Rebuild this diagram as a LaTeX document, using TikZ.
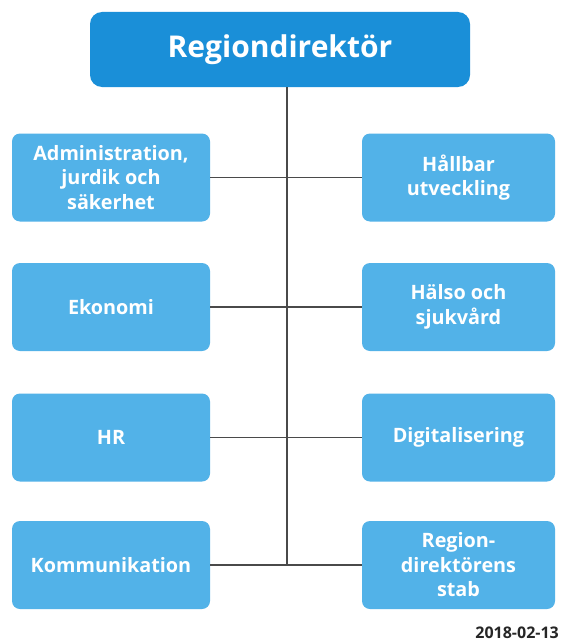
\documentclass[tikz,border=0pt]{standalone}
\usepackage{fontspec}
\setmainfont{Open Sans}
\definecolor{topblue}{HTML}{1A8FD8}
\definecolor{boxblue}{HTML}{52B2E8}
\definecolor{linegray}{HTML}{4A4A4A}
\begin{document}
\begin{tikzpicture}[x=1pt,y=-1pt,
  topbox/.style={fill=topblue, draw=none, rounded corners=12pt, minimum width=380pt, minimum height=75pt,
    text=white, font=\bfseries\fontsize{30}{35}\selectfont},
  unitbox/.style={fill=boxblue, draw=none, rounded corners=8pt, minimum height=88pt,
    text=white, align=center, inner sep=2pt, font=\bfseries\fontsize{19.8}{24.5}\selectfont},
  leftbox/.style={unitbox, minimum width=198pt},
  rightbox/.style={unitbox, minimum width=193pt},
  conn/.style={draw=linegray, line width=1.4pt}]
\useasboundingbox[fill=white] (0,0) rectangle (561,642);

\node[topbox] (top) at (280,49.5) {Regiondirektör};

\node[leftbox] (l1) at (111,177.5) {Administration,\\jurdik och\\säkerhet};
\node[leftbox] (l2) at (111,307) {Ekonomi};
\node[leftbox] (l3) at (111,437.5) {HR};
\node[leftbox] (l4) at (111,565) {Kommunikation};

\node[rightbox] (r1) at (458.5,177.5) {Hållbar\\utveckling};
\node[rightbox] (r2) at (458.5,307) {Hälso och\\sjukvård};
\node[rightbox] (r3) at (458.5,437.5) {Digitalisering};
\node[rightbox] (r4) at (458.5,565) {Region-\\direktörens\\stab};

\coordinate (spinetop) at ([xshift=7pt]top.south);
\coordinate (spinebot) at (spinetop |- l4.east);

\draw[conn] (spinetop) -- (spinebot);
\draw[conn] (l1.east) -- (r1.west);
\draw[conn] (l2.east) -- (r2.west);
\draw[conn] (l3.east) -- (r3.west);
\draw[conn] (l4.east) -- (r4.west);

\node[anchor=east, inner sep=0pt, text=black!85, font=\bfseries\fontsize{16}{18}\selectfont] (date) at (559,633) {2018-02-13};
\end{tikzpicture}
\end{document}
